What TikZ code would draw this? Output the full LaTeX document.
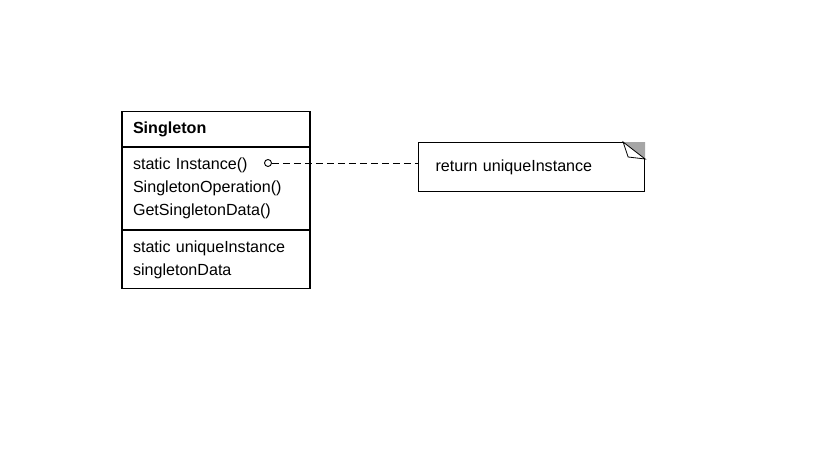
\documentclass[tikz,border=0pt]{standalone}
\usepackage{fontspec}
\setmainfont{Liberation Sans}
\usetikzlibrary{positioning}
\tikzset{
  umlpart/.style={draw,line width=1.1pt,minimum width=188pt,text width=166pt,
    inner xsep=11pt,inner ysep=0pt,align=left,anchor=north,
    font=\fontsize{16.1}{23}\selectfont},
  notebox/.style={draw,line width=1.1pt,minimum width=226pt,minimum height=49pt,
    text width=192pt,inner xsep=17pt,align=left,anchor=north west,
    font=\fontsize{16.1}{23}\selectfont}
}
\begin{document}
\begin{tikzpicture}[x=1pt,y=-1pt]
            \useasboundingbox (0,0) rectangle (819,460);
            \node[umlpart,minimum height=35pt,font=\fontsize{16.1}{23}\selectfont\bfseries] (title) at (216,111) {Singleton};
            \node[umlpart,minimum height=82pt] (ops) at (title.south) {static Instance()\\SingletonOperation()\\GetSingletonData()};
            \node[umlpart,minimum height=58pt] (attrs) at (ops.south) {static uniqueInstance\\singletonData};
            \node[notebox] (note) at (418,142) {return uniqueInstance};
            \fill[gray!70] (note.north east) ++(-22,0) coordinate (fold) -- (note.north east) -- ++(0,17) -- cycle;
            \draw[line width=0.8pt,fill=white] (fold) -- ++(5,15) -- ++(17,2) -- cycle;
            \node[draw,circle,line width=0.9pt,minimum size=7pt,inner sep=0pt] (port) at (268,163) {};
            \draw[line width=1pt,dash pattern=on 7pt off 4pt] (port.east) -- (port -| note.west);
        \end{tikzpicture}
\end{document}
